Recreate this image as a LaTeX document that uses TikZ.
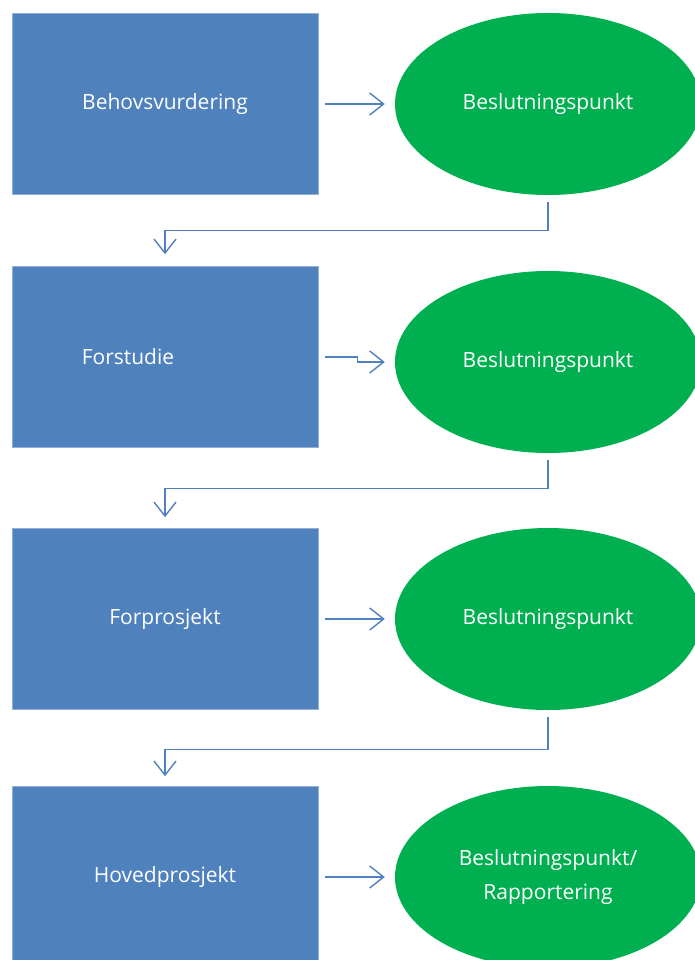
\documentclass[tikz,border=0pt]{standalone}
\usepackage{fontspec}
\setmainfont{Open Sans}
\usetikzlibrary{shapes.geometric,arrows.meta}
\begin{document}
\begin{tikzpicture}[x=1pt,y=-1pt,
phase/.style={rectangle,fill=color0,draw=color3,line width=0.6pt,minimum width=306pt,minimum height=181pt,inner sep=0pt,text=white,font=\fontsize{21}{30}\selectfont},
point/.style={ellipse,fill=color1,minimum width=306pt,minimum height=182pt,inner sep=0pt,text=white,align=center,font=\fontsize{21}{34}\selectfont},
phaselabel/.style={text=white,font=\fontsize{21}{30}\selectfont},
conn/.style={color2,line width=1.3pt,-{Straight Barb[length=14pt,width=22pt,line width=1.4pt]}}]
\definecolor{color0}{HTML}{4F81BD}
\definecolor{color1}{HTML}{00B050}
\definecolor{color2}{HTML}{5080C0}
\definecolor{color3}{HTML}{8EB0DC}
\useasboundingbox (0,0) rectangle (695,960);
\clip (0,0) rectangle (695,960);
\node[phase] (behov) at (165,104) {Behovsvurdering};
\node[point] (bp1) at (548,104) {Beslutningspunkt};
\node[phase,label={[phaselabel,xshift=-37pt]center:Forstudie}] (forstudie) at (165,357) {};
\node[point] (bp2) at (548,362) {Beslutningspunkt};
\node[phase] (forprosjekt) at (165,619) {Forprosjekt};
\node[point] (bp3) at (548,619) {Beslutningspunkt};
\node[phase] (hoved) at (165,877) {Hovedprosjekt};
\node[point] (bp4) at (548,877) {Beslutningspunkt/\\Rapportering};
\draw[conn] ([xshift=7pt]behov.east) -- ([xshift=-10pt]bp1.west);
\draw[conn] ([xshift=7pt]forstudie.east) -- ++(32,0) |- ([xshift=-10pt]bp2.west);
\draw[conn] ([xshift=7pt]forprosjekt.east) -- ([xshift=-10pt]bp3.west);
\draw[conn] ([xshift=7pt]hoved.east) -- ([xshift=-10pt]bp4.west);
\draw[conn] ([yshift=-7pt]bp1.south) -- ++(0,28) -| ([yshift=12pt]forstudie.north);
\draw[conn] ([yshift=-7pt]bp2.south) -- ++(0,28) -| ([yshift=11pt]forprosjekt.north);
\draw[conn] ([yshift=-7pt]bp3.south) -- ++(0,32) -| ([yshift=10pt]hoved.north);
\end{tikzpicture}
\end{document}
